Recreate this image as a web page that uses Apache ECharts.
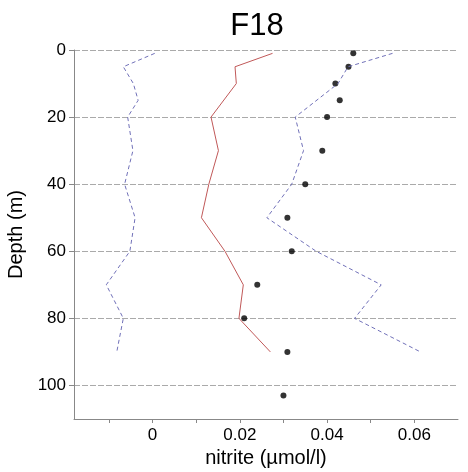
<!DOCTYPE html>
<html>
<head>
<meta charset="utf-8">
<script src="https://cdn.jsdelivr.net/npm/echarts@6/dist/echarts.min.js"></script>
<style>html,body{margin:0;padding:0;background:#fff}#c{width:468px;height:472px}</style>
</head>
<body>
<div id="c"></div>
<script>
// Observations (black dots)
var obsDepth = [1, 5, 10, 15, 20, 30, 40, 50, 60, 70, 80, 90, 103];
var obsNitrite = [0.046, 0.0449, 0.0419, 0.0429, 0.040, 0.0389, 0.035, 0.0309, 0.0319, 0.024, 0.021, 0.0309, 0.030];
// Model mean (red line)
var meanDepth = [1, 5, 10, 20, 30, 40, 50, 60, 70, 80, 90];
var meanNitrite = [0.0275, 0.0189, 0.0192, 0.0134, 0.0151, 0.0129, 0.0112, 0.0166, 0.0208, 0.0198, 0.027];
// Lower bound (blue dashed, left)
var lowDepth = [1, 5, 10, 15, 20, 30, 40, 50, 60, 70, 80, 90];
var lowNitrite = [0.0005, -0.0067, -0.0044, -0.0033, -0.0057, -0.0045, -0.0064, -0.004, -0.0052, -0.0106, -0.0067, -0.0082];
// Upper bound (blue dashed, right)
var upDepth = [1, 5, 10, 20, 30, 40, 50, 60, 70, 80, 90];
var upNitrite = [0.055, 0.0448, 0.0425, 0.0327, 0.0346, 0.0319, 0.0262, 0.0375, 0.0524, 0.0463, 0.0614];
// Tick labels
var xLabels = [0, 0.02, 0.04, 0.06];
var xTicks = [-0.01, 0, 0.01, 0.02, 0.03, 0.04, 0.05, 0.06];

function pairs(xs, ys) { return xs.map(function (x, i) { return [x, ys[i]]; }); }

var font = 'Liberation Sans, Arial, sans-serif';
var chart = echarts.init(document.getElementById('c'), null, {renderer: 'canvas'});
chart.setOption({
  animation: false,
  title: {text: 'F18', left: 252, top: 6, textAlign: 'center',
    textStyle: {fontFamily: font, fontSize: 31, fontWeight: 'normal', color: '#000'}},
  grid: {left: 74, right: 10, top: 50, bottom: 53, outerBoundsMode: 'none', containLabel: false},
  xAxis: {
    type: 'value', min: -0.018, max: 0.07,
    name: 'nitrite (µmol/l)', nameLocation: 'middle', nameGap: 29,
    nameTextStyle: {fontFamily: font, fontSize: 20, color: '#000'},
    axisLine: {show: true, onZero: false, lineStyle: {color: '#888', width: 1}},
    axisTick: {show: true, length: 4, customValues: xTicks, lineStyle: {color: '#888'}},
    axisLabel: {customValues: xLabels, fontFamily: font, fontSize: 17, color: '#000', margin: 8,
      formatter: function (v) { return v === 0 ? '0' : String(+v.toFixed(2)); }},
    splitLine: {show: false}
  },
  yAxis: {
    type: 'value', inverse: true, min: 0, max: 110, interval: 20,
    name: 'Depth (m)', nameLocation: 'middle', nameGap: 41, nameRotate: 90,
    nameTextStyle: {fontFamily: font, fontSize: 20, color: '#000'},
    axisLine: {show: true, onZero: false, lineStyle: {color: '#888', width: 1}},
    axisTick: {show: true, length: 5, lineStyle: {color: '#888'}},
    axisLabel: {fontFamily: font, fontSize: 17, color: '#000', margin: 8,
      showMaxLabel: false},
    splitLine: {show: true, lineStyle: {color: '#aaaaaa', type: [6, 2], width: 1}}
  },
  series: [
    {type: 'line', data: pairs(lowNitrite, lowDepth), symbol: 'none',
      lineStyle: {color: '#7070b8', width: 1, type: [4, 3]}},
    {type: 'line', data: pairs(upNitrite, upDepth), symbol: 'none',
      lineStyle: {color: '#7070b8', width: 1, type: [4, 3]}},
    {type: 'line', data: pairs(meanNitrite, meanDepth), symbol: 'none',
      lineStyle: {color: '#c05858', width: 1}},
    {type: 'scatter', data: pairs(obsNitrite, obsDepth), symbol: 'circle', symbolSize: 6,
      itemStyle: {color: '#000'}}
  ]
});
</script>
</body>
</html>
